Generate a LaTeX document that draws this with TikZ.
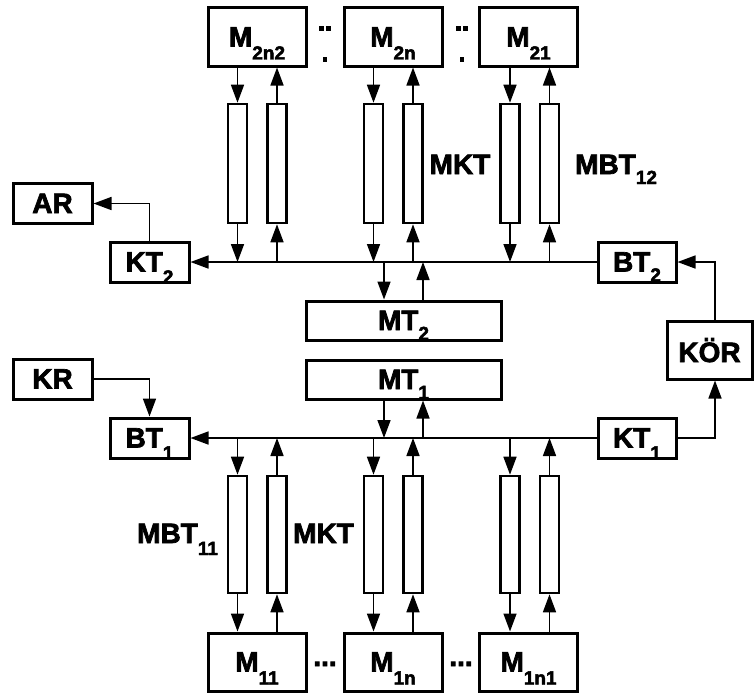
\documentclass[tikz,border=0pt]{standalone}
\usepackage{fontspec}
\setmainfont{Liberation Sans}
\newfontfamily\heavy{Liberation Sans Bold}[FakeBold=2.5]
\usetikzlibrary{arrows.meta}
\newcommand\sbs[2][12pt]{\raisebox{-#1}{\fontsize{19}{19}\selectfont #2}}
\begin{document}
\begin{tikzpicture}[x=1pt,y=-1pt,
 box/.style={draw,line width=3pt,inner sep=0pt,font=\fontsize{28}{30}\selectfont\heavy,text height=19pt,text depth=0pt},
 mtop/.style={box,minimum width=98pt,minimum height=58pt},
 mbot/.style={box,minimum width=98pt,minimum height=58pt},
 sbox/.style={box,minimum width=79pt,minimum height=40pt},
 wbox/.style={box,minimum width=195pt,minimum height=39pt},
 tubeT/.style={draw,line width=2.6pt,inner sep=0pt,minimum width=19pt,minimum height=119pt},
 tubeB/.style={draw,line width=2.6pt,inner sep=0pt,minimum width=19pt,minimum height=117pt},
 arr/.style={line width=1.6pt,-{Triangle[length=18pt,width=13pt]}},
 lbl/.style={font=\fontsize{28}{30}\selectfont\heavy,inner sep=0pt,anchor=base west},
 dotsq/.style={fill,inner sep=0pt,minimum size=4.5pt}
]
\useasboundingbox (0,0) rectangle (754,693);

% top memory boxes
\node[mtop] (m2n2) at (257,37) {M\sbs[13pt]{2n2}};
\node[mtop] (m2n)  at (393,37) {M\sbs[13pt]{2n}};
\node[mtop] (m21)  at (528.5,37) {M\sbs[13pt]{21}};
% bottom memory boxes
\node[mbot] (m11)  at (257,662) {M\sbs[13pt]{11}};
\node[mbot] (m1n)  at (393,662) {M\sbs[13pt]{1n}};
\node[mbot] (m1n1) at (528.5,662) {M\sbs[13pt]{1n1}};

% side boxes
\node[sbox] (ar)  at (52.5,203.5) {AR};
\node[sbox] (kt2) at (149.5,262) {KT\sbs{2}};
\node[sbox,minimum width=78pt] (bt2) at (637,262) {BT\sbs[10pt]{2}};
\node[sbox] (kr)  at (52.5,379) {KR};
\node[sbox] (bt1) at (149.5,438) {BT\sbs{1}};
\node[sbox,minimum width=78pt] (kt1) at (637,438) {KT\sbs{1}};
\node[box,minimum width=85pt,minimum height=58pt,text height=24pt] (kor) at (709.5,350) {KÖR};
\node[wbox] (mt2) at (403.5,320.5) {MT\sbs[10pt]{2}};
\node[wbox] (mt1) at (403.5,379.5) {MT\sbs[10pt]{1}};

% top tubes
\node[tubeT] (ta1) at (237.5,163.5) {};
\node[tubeT] (tb1) at (277,163.5) {};
\node[tubeT] (ta2) at (373.5,163.5) {};
\node[tubeT] (tb2) at (413,163.5) {};
\node[tubeT] (ta3) at (510,163.5) {};
\node[tubeT] (tb3) at (549.5,163.5) {};
% bottom tubes
\node[tubeB] (ba1) at (237.5,534.5) {};
\node[tubeB] (bb1) at (277,534.5) {};
\node[tubeB] (ba2) at (373.5,534.5) {};
\node[tubeB] (bb2) at (413,534.5) {};
\node[tubeB] (ba3) at (510,534.5) {};
\node[tubeB] (bb3) at (549.5,534.5) {};

% labels
\node[lbl,anchor=base] (lmkt2) at (460,174) {MKT};
\node[lbl] (lmbt12) at (575,174) {MBT\sbs[10pt]{12}};
\node[lbl] (lmbt11) at (137,543) {MBT\sbs[12pt]{11}};
\node[lbl] (lmkt1) at (293,543) {MKT};

% dots
\node[dotsq] (d1) at (321.5,28.5) {};
\node[dotsq] (d2) at (328.5,28.5) {};
\node[dotsq] (d3) at (325,59.5) {};
\node[dotsq] (d4) at (458.5,28.5) {};
\node[dotsq] (d5) at (465.5,28.5) {};
\node[dotsq] (d6) at (462,59.5) {};
\node[lbl,anchor=base] (e1) at (325,666) {...};
\node[lbl,anchor=base] (e2) at (461,666) {...};

% buses
\draw[arr] (bt2.west) -- (kt2.east);
\draw[arr] (kt1.west) -- (bt1.east);

% top tube connections
\foreach \a/\b/\m in {ta1/tb1/m2n2, ta2/tb2/m2n, ta3/tb3/m21}{
  \draw[arr] (\a.north |- \m.south) -- (\a.north);
  \draw[arr] (\b.north) -- (\b.north |- \m.south);
  \draw[arr] (\a.south) -- (\a.south |- kt2.east);
  \draw[arr] (\b.south |- kt2.east) -- (\b.south);
}
% bottom tube connections
\foreach \a/\b/\m in {ba1/bb1/m11, ba2/bb2/m1n, ba3/bb3/m1n1}{
  \draw[arr] (\a.north |- bt1.east) -- (\a.north);
  \draw[arr] (\b.north) -- (\b.north |- bt1.east);
  \draw[arr] (\a.south) -- (\a.south |- \m.north);
  \draw[arr] (\b.south |- \m.north) -- (\b.south);
}

% MT connections
\coordinate (c1) at (384,0);
\coordinate (c2) at (423,0);
\draw[arr] (c1 |- kt2.east) -- (c1 |- mt2.north);
\draw[arr] (c2 |- mt2.north) -- (c2 |- kt2.east);
\draw[arr] (c1 |- mt1.south) -- (c1 |- bt1.east);
\draw[arr] (c2 |- bt1.east) -- (c2 |- mt1.south);

% side connections
\draw[arr] (kt2.north) |- (ar.east);
\draw[arr] (kr.east) -| (bt1.north);
\coordinate (kx) at (715,0);
\draw[arr] (kx |- kor.north) |- (bt2.east);
\draw[arr] (kt1.east) -| (kx |- kor.south);
\end{tikzpicture}
\end{document}
